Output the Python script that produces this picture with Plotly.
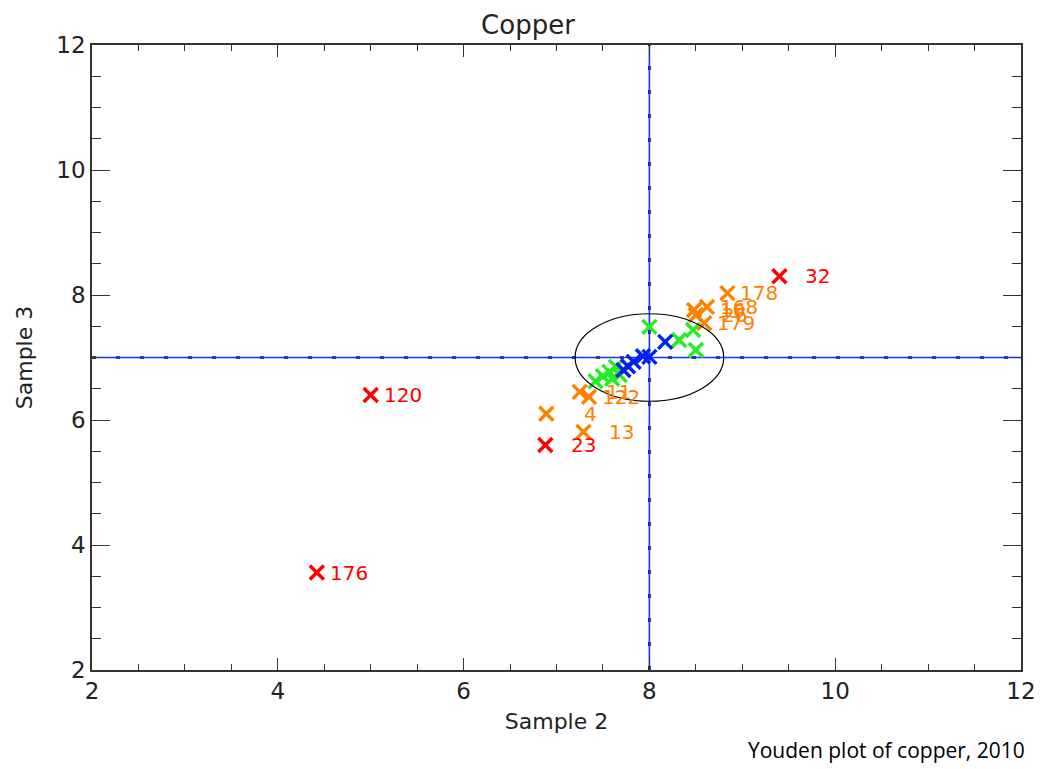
import plotly.graph_objects as go

# ---- data ----
red_x = [9.40, 5.00, 4.42, 6.88]
red_y = [8.30, 6.40, 3.56, 5.60]
red_labels = ["32", "120", "176", "23"]

orange_x = [6.89, 7.29, 7.25, 7.35, 8.84, 8.48, 8.62, 8.50, 8.59]
orange_y = [6.10, 5.81, 6.45, 6.37, 8.03, 7.76, 7.81, 7.68, 7.55]
orange_labels = ["4", "13", "11", "122", "178", "16", "168", "26", "179"]

green_x = [8.00, 8.47, 8.32, 8.50, 7.64, 7.57, 7.50, 7.42, 7.68, 7.60]
green_y = [7.49, 7.44, 7.28, 7.12, 6.85, 6.77, 6.70, 6.62, 6.72, 6.66]

blue_x = [8.17, 8.00, 7.93, 7.83, 7.77, 7.72]
blue_y = [7.25, 7.01, 7.02, 6.93, 6.86, 6.80]

center_x, center_y = 8.0, 7.0
ellipse_rx, ellipse_ry = 0.80, 0.70

x_range = [2, 12]
y_range = [2, 12]

RED = "#FF0000"
ORANGE = "#FF8000"
GREEN = "#22EE22"
BLUE = "#0022EE"
FONT = "DejaVu Sans"
TEXT = "#222222"

fig = go.Figure()

# reference lines (sparse short black dashes under a blue solid line)
for xs, ys in [(x_range, [center_y, center_y]), ([center_x, center_x], y_range)]:
    fig.add_trace(go.Scatter(x=xs, y=ys, mode="lines",
                             line=dict(color="black", width=2.6, dash="4px,20px"),
                             hoverinfo="skip", showlegend=False))
for xs, ys in [(x_range, [center_y, center_y]), ([center_x, center_x], y_range)]:
    fig.add_trace(go.Scatter(x=xs, y=ys, mode="lines",
                             line=dict(color="#1535FF", width=1.6),
                             hoverinfo="skip", showlegend=False))

fig.add_shape(type="circle", xref="x", yref="y",
              x0=center_x - ellipse_rx, x1=center_x + ellipse_rx,
              y0=center_y - ellipse_ry, y1=center_y + ellipse_ry,
              line=dict(color="black", width=1.2))


def add_points(xs, ys, color):
    fig.add_trace(go.Scatter(
        x=xs, y=ys, mode="markers", showlegend=False,
        marker=dict(symbol="x-thin", size=14, color=color,
                    line=dict(color=color, width=3.5))))


add_points(green_x, green_y, GREEN)
add_points(orange_x, orange_y, ORANGE)
add_points(blue_x, blue_y, BLUE)
add_points(red_x, red_y, RED)

annotations = []
for xs, ys, labs, col in [(red_x, red_y, red_labels, RED),
                          (orange_x, orange_y, orange_labels, ORANGE)]:
    for x, y, t in zip(xs, ys, labs):
        annotations.append(dict(x=x, y=y, xref="x", yref="y", text=t,
                                showarrow=False, xanchor="right", yanchor="middle",
                                xshift=53, font=dict(family=FONT, size=20, color=col)))

annotations.append(dict(x=1.0, y=0, xref="paper", yref="paper",
                        text="Youden plot of copper, 2010", showarrow=False,
                        xanchor="right", yanchor="top", yshift=-64, xshift=6,
                        font=dict(family="Open Sans", size=21, color="black")))

axis_common = dict(
    range=x_range, showgrid=False, zeroline=False,
    showline=True, linecolor="#333333", linewidth=1.5, mirror="allticks",
    ticks="inside", ticklen=12, tickwidth=1.3, tickcolor="#333333",
    dtick=2, tick0=2,
    minor=dict(ticks="inside", dtick=0.5, ticklen=6, tickwidth=1.2, tickcolor="#333333"),
    tickfont=dict(family=FONT, size=23, color=TEXT),
)

fig.update_layout(
    width=1040, height=761,
    margin=dict(l=84, r=23, t=37, b=99),
    plot_bgcolor="white", paper_bgcolor="white",
    title=dict(text="Copper", x=0.5, xanchor="center", y=0.978, yanchor="middle",
               font=dict(family=FONT, size=26, color=TEXT)),
    xaxis=dict(axis_common, title=dict(text="Sample 2", standoff=10,
                                       font=dict(family=FONT, size=22, color=TEXT))),
    yaxis=dict(axis_common, range=y_range, ticklen=18,
               minor=dict(ticks="inside", dtick=0.5, ticklen=9, tickwidth=1.2, tickcolor="#333333"),
               title=dict(text="Sample 3", standoff=18,
                          font=dict(family=FONT, size=22, color=TEXT))),
    annotations=annotations,
)

fig.write_html("out.html")
